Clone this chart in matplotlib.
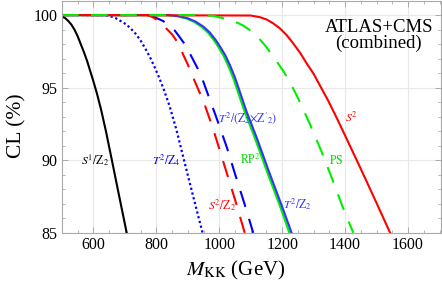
import numpy as np
import matplotlib
matplotlib.use("Agg")
import matplotlib.pyplot as plt

# curves: M_KK (GeV) vs CL (%)
m_s1z2 = [500, 510, 520, 530, 540, 550, 560, 570, 580, 590, 600, 612, 625, 640, 658, 680, 706]
cl_s1z2 = [99.9, 99.8, 99.6, 99.35, 99.0, 98.55, 98.0, 97.45, 96.85, 96.15, 95.45, 94.55, 93.45, 92.0, 90.1, 87.75, 85.0]

m_t2z4 = [500, 630, 650, 670, 690, 705, 720, 735, 750, 765, 780, 795, 810, 825, 842, 864, 887, 915, 947]
cl_t2z4 = [100, 100, 99.95, 99.8, 99.55, 99.35, 99.05, 98.7, 98.25, 97.7, 97.1, 96.4, 95.65, 94.8, 93.75, 92.1, 90.1, 87.7, 85.0]

m_s2z2 = [500, 770, 785, 800, 816, 833, 851, 862, 875, 887, 900, 925, 951, 980, 1000, 1020, 1050, 1081]
cl_s2z2 = [100, 100, 99.9, 99.7, 99.4, 99.05, 98.65, 98.3, 97.8, 97.2, 96.6, 95.3, 94.0, 92.2, 90.8, 89.4, 87.3, 85.0]

m_t2z2z2 = [500, 775, 795, 821, 840, 858, 872, 887, 908, 932, 948, 963, 990, 1024, 1051, 1081, 1108]
cl_t2z2z2 = [100, 100, 99.85, 99.6, 99.3, 98.95, 98.55, 98.1, 97.3, 96.3, 95.5, 94.6, 93.0, 90.9, 89.0, 86.95, 85.0]

m_t2z2 = [500, 840, 870, 900, 925, 950, 970, 990, 1005, 1020, 1035, 1050, 1065, 1086, 1120, 1160, 1200, 1230]
cl_t2z2 = [100, 100, 99.93, 99.78, 99.55, 99.2, 98.8, 98.25, 97.75, 97.2, 96.5, 95.7, 94.75, 93.4, 91.5, 89.1, 86.8, 85.0]

m_rp2 = [500, 834, 864, 894, 919, 944, 964, 984, 999, 1014, 1029, 1044, 1059, 1080, 1114, 1154, 1194, 1223]
cl_rp2 = [100, 100, 99.93, 99.78, 99.55, 99.2, 98.8, 98.25, 97.75, 97.2, 96.5, 95.7, 94.75, 93.4, 91.5, 89.1, 86.8, 85.0]

m_ps = [500, 950, 980, 1000, 1020, 1040, 1060, 1076, 1095, 1110, 1130, 1148, 1175, 1205, 1230, 1251, 1288, 1326, 1360, 1391, 1426]
cl_ps = [100, 100, 99.95, 99.85, 99.75, 99.6, 99.45, 99.28, 99.0, 98.7, 98.3, 97.85, 97.05, 96.1, 95.15, 94.25, 92.5, 90.55, 88.65, 86.85, 85.0]

m_s2 = [500, 1100, 1130, 1150, 1170, 1192, 1215, 1235, 1257, 1277, 1300, 1320, 1345, 1367, 1400, 1450, 1500, 1543]
cl_s2 = [100, 99.97, 99.85, 99.7, 99.45, 99.1, 98.6, 98.05, 97.4, 96.7, 95.95, 95.15, 94.15, 93.2, 91.7, 89.4, 87.05, 85.0]

plt.rcParams['font.family'] = ['Liberation Serif', 'DejaVu Serif']
plt.rcParams['mathtext.fontset'] = 'stix'

fig = plt.figure(figsize=(4.42, 2.84), dpi=100)
ax = fig.add_axes([0.140, 0.180, 0.858, 0.818])

ax.plot(m_t2z4, cl_t2z4, color='#0000ff', lw=1.6, ls=(0, (1, 1.2)))
ax.plot(m_t2z2z2, cl_t2z2z2, color='#0000ff', lw=1.5, ls=(0, (8, 6)))
ax.plot(m_rp2, cl_rp2, color='#00ee00', lw=1.6)
ax.plot(m_t2z2, cl_t2z2, color='#3333ff', lw=1.5)
ax.plot(m_s2, cl_s2, color='#ff0000', lw=1.5)
ax.plot(m_s1z2, cl_s1z2, color='black', lw=1.5)
ax.plot(m_s2z2, cl_s2z2, color='#ff0000', lw=1.5, ls=(4, (8, 6)))
ax.plot(m_ps, cl_ps, color='#00ee00', lw=1.5, ls=(0, (8, 6)))

ax.set_xlim(500, 1705)
ax.set_ylim(85, 101)
ax.set_xticks([600, 800, 1000, 1200, 1400, 1600])
ax.set_yticks([85, 90, 95, 100])
ax.set_xticks(np.arange(500, 1701, 50), minor=True)
ax.set_yticks(np.arange(85, 101, 1), minor=True)
ax.grid(True, which='major', color='#e8e8e8', lw=0.8)
ax.set_axisbelow(True)
for s in ax.spines.values():
    s.set_color('#aaaaaa')
    s.set_linewidth(0.8)
ax.tick_params(which='both', direction='in', top=True, right=True,
               color='#aaaaaa', labelsize=11.5, pad=3)
ax.tick_params(which='major', length=4.5, width=0.7)
ax.tick_params(which='minor', length=2.5, width=0.6)

fig.text(236 / 442, 1 - 270 / 284, r'$M_{\mathrm{KK}}$ (GeV)', fontsize=15,
         ha='center', va='center')
fig.text(17 / 442, 1 - 126 / 284, 'CL (%)', fontsize=15.5, rotation=90,
         ha='center', va='center')

fs = 8.5
ax.text(607, 90.0, r'$S^1/\mathrm{Z}_2$', color='black', fontsize=fs, ha='center', va='center')
ax.text(833, 90.0, r'$T^2/\mathrm{Z}_4$', color='#0000ff', fontsize=fs, ha='center', va='center')
ax.text(1008, 86.9, r'$S^2/\mathrm{Z}_2$', color='#ff0000', fontsize=fs, ha='center', va='center')
ax.text(1089, 92.9, r"$T^2/(\mathrm{Z}_2{\times}\mathrm{Z}'_2)$", color='#3333ff', fontsize=fs, ha='center', va='center')
ax.text(1098, 90.0, r'$\mathrm{RP}^2$', color='#00dd00', fontsize=fs, ha='center', va='center')
ax.text(1248, 87.0, r'$T^2/\mathrm{Z}_2$', color='#3333ff', fontsize=fs, ha='center', va='center')
ax.text(1372, 90.0, r'$\mathrm{PS}$', color='#00dd00', fontsize=fs, ha='center', va='center')
ax.text(1419, 92.95, r'$S^2$', color='#ff0000', fontsize=fs, ha='center', va='center')

ax.text(0.837, 0.885, 'ATLAS+CMS', transform=ax.transAxes, fontsize=13.5, ha='center', va='center')
ax.text(0.835, 0.815, '(combined)', transform=ax.transAxes, fontsize=13.5, ha='center', va='center')

fig.savefig('out.png', dpi=100)
